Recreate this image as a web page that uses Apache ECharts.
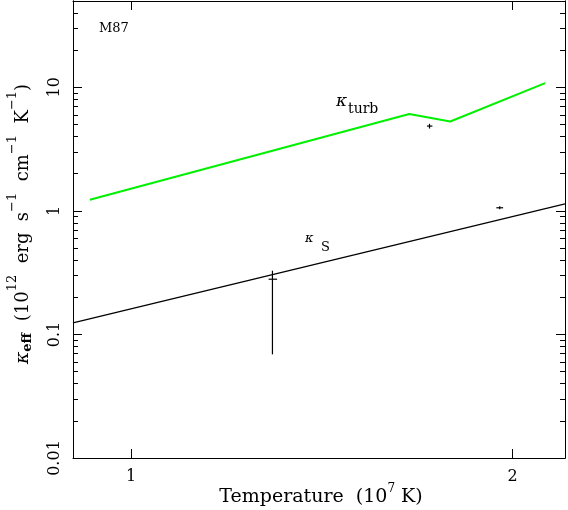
<!DOCTYPE html>
<html>
<head>
<meta charset="utf-8">
<script src="https://cdn.jsdelivr.net/npm/echarts@6/dist/echarts.min.js"></script>
<style>
  html, body { margin: 0; padding: 0; background: #fff; }
  #chart { width: 568px; height: 510px; }
</style>
</head>
<body>
<div id="chart"></div>
<script>
// M87: effective conductivity vs temperature
const kTurb = [[0.928, 1.23], [1.658, 6.08], [1.786, 5.29], [2.122, 10.83]];
const kSpitzer = [[0.9, 0.124], [2.2, 1.14]];
// x, y, xlo, xhi, ylo, yhi
const measured = [
  [1.293, 0.280, 1.284, 1.304, 0.069, 0.328],
  [1.720, 4.86, 1.712, 1.729, 4.64, 5.07],
  [1.954, 1.06, 1.942, 1.966, 1.03, 1.09]
];
const xTicks = [1, 2];
const yTicks = [0.01, 0.1, 1, 10];
const yMinor = [0.02, 0.03, 0.04, 0.05, 0.06, 0.07, 0.08, 0.09,
  0.2, 0.3, 0.4, 0.5, 0.6, 0.7, 0.8, 0.9,
  2, 3, 4, 5, 6, 7, 8, 9,
  20, 30, 40, 50];

const FONT = 'DejaVu Serif';
const INK = '#000';

function xAxisDef(pos, withLabels) {
  return {
    type: 'log', logBase: 2, min: 0.9, max: 2.2, position: pos,
    axisLine: { lineStyle: { color: INK, width: 1 } },
    axisTick: { inside: true, length: 9, customValues: xTicks, lineStyle: { color: INK } },
    axisLabel: { show: withLabels, customValues: xTicks, margin: 11,
      fontFamily: FONT, fontSize: 16, color: INK },
    splitLine: { show: false }
  };
}

function yAxisDef(pos, ticks, len, withLabels) {
  return {
    type: 'log', logBase: 10, min: 0.01, max: 50, position: pos,
    axisLine: { show: true, lineStyle: { color: INK, width: 1 } },
    axisTick: { inside: true, length: len, customValues: ticks, lineStyle: { color: INK } },
    axisLabel: { show: withLabels, customValues: yTicks, rotate: 90, margin: 10,
      fontFamily: FONT, fontSize: 16, color: INK },
    splitLine: { show: false }
  };
}

function label(x, y, text, size, italic) {
  return {
    type: 'text', x: x, y: y,
    style: {
      text: text, fill: INK, verticalAlign: 'middle',
      font: (italic ? 'italic ' : '') + size + 'px "DejaVu Serif"'
    }
  };
}

// rich token: vertical position inside the line is set by box height (top aligned)
function tok(size, h, extra) {
  return Object.assign({ fontFamily: FONT, fontSize: size, height: h, verticalAlign: 'top' }, extra || {});
}

const chart = echarts.init(document.getElementById('chart'));
chart.setOption({
  animation: false,
  backgroundColor: '#fff',
  grid: { left: 73, right: 3, top: 1, bottom: 52 },
  xAxis: [xAxisDef('bottom', true), xAxisDef('top', false)],
  yAxis: [
    yAxisDef('left', yTicks, 9, true),
    yAxisDef('left', yMinor, 5, false),
    yAxisDef('right', yTicks, 9, false),
    yAxisDef('right', yMinor, 5, false)
  ],
  series: [
    {
      type: 'line', data: kTurb, symbol: 'none',
      lineStyle: { color: '#00f000', width: 2 }
    },
    {
      type: 'line', data: kSpitzer, symbol: 'none',
      lineStyle: { color: INK, width: 1.2 }
    },
    {
      type: 'custom', data: measured,
      encode: { x: [0, 2, 3], y: [1, 4, 5] },
      renderItem: function (params, api) {
        const c = api.coord([api.value(0), api.value(1)]);
        const l = api.coord([api.value(2), api.value(1)]);
        const r = api.coord([api.value(3), api.value(1)]);
        const lo = api.coord([api.value(0), api.value(4)]);
        const hi = api.coord([api.value(0), api.value(5)]);
        const st = { stroke: INK, lineWidth: 1.2 };
        return {
          type: 'group', children: [
            { type: 'line', shape: { x1: l[0], y1: c[1], x2: r[0], y2: c[1] }, style: st },
            { type: 'line', shape: { x1: c[0], y1: hi[1], x2: c[0], y2: lo[1] }, style: st }
          ]
        };
      }
    }
  ],
  graphic: [
    label(99, 29, 'M87', 13, false),
    label(336, 102, 'κ', 17, true),
    label(348, 109, 'turb', 14, false),
    label(305, 239, 'κ', 13, true),
    label(321, 248, 'S', 13, false),
    {
      type: 'text', x: 321, y: 497,
      style: {
        text: '{b|Temperature  (10}{p|7}{b| K)}', fill: INK, align: 'center', verticalAlign: 'middle',
        rich: { b: tok(19, 28), p: tok(12, 12) }
      }
    },
    {
      type: 'text', x: 28, y: 224, rotation: Math.PI / 2,
      style: {
        text: '{k|κ}{s|eff}{b|  (10}{p|12}{b|  erg  s}{p|−1}{b|  cm}{p|−1}{b|  K}{p|−1}{b|)}',
        fill: INK, align: 'center', verticalAlign: 'middle',
        rich: {
          k: tok(19, 33, { fontStyle: 'italic' }),
          s: tok(13, 43, { fontWeight: 'bold' }),
          b: tok(18, 33),
          p: tok(13, 13)
        }
      }
    }
  ]
});
</script>
</body>
</html>
